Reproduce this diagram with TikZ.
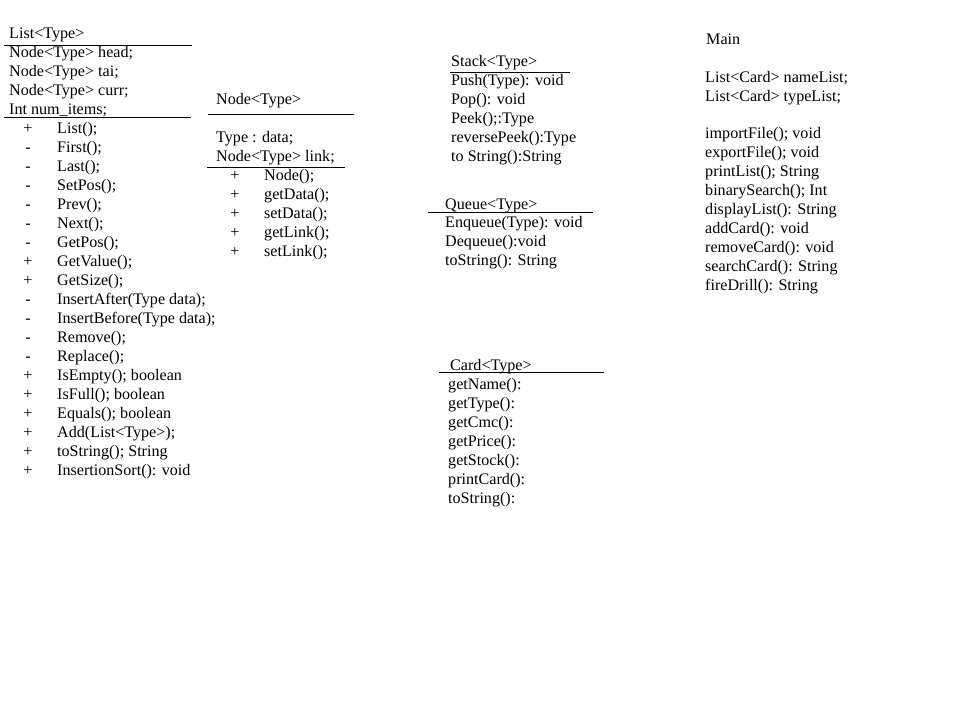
\documentclass[tikz,border=0pt]{standalone}
\usepackage{fontspec}
\setmainfont{Liberation Serif}
\begin{document}
\begin{tikzpicture}[x=1pt,y=-1pt,
  txt/.style={inner sep=0pt,anchor=base west,font=\fontsize{16.1}{19}\selectfont},
  rule/.style={line width=1pt,black}]
\useasboundingbox[fill=white] (0,0) rectangle (960,720);
% ---------- List ----------
\node[txt] (listT) at (9,38) {List<Type>};
\draw[rule] (4,45) -- (192,45);
\foreach \t [count=\i] in {Node<Type> head;,Node<Type> tai;,Node<Type> curr;,Int num\_items;}
  \node[txt] (lattr\i) at (9,{38+19*\i}) {\t};
\draw[rule] (4,117) -- (191,117);
\foreach \s/\t [count=\i] in {+/List();,-/First();,-/Last();,-/SetPos();,-/Prev();,-/Next();,-/GetPos();,+/GetValue();,+/GetSize();,-/InsertAfter(Type data);,-/InsertBefore(Type data);,-/Remove();,-/Replace();,+/IsEmpty(); boolean,+/IsFull(); boolean,+/Equals(); boolean,+/Add(List<Type>);,+/toString(); String,+/InsertionSort(): void}
{
  \node[txt,anchor=base] (lsym\i) at (28,{114+19*\i}) {\s};
  \node[txt] (lop\i) at (57,{114+19*\i}) {\t};
}
% ---------- Node ----------
\node[txt] (nodeT) at (216,104) {Node<Type>};
\draw[rule] (208,114) -- (354,114);
\node[txt] (nattr1) at (216,142) {Type : data;};
\node[txt] (nattr2) at (216,161) {Node<Type> link;};
\draw[rule] (207,167) -- (345,167);
\foreach \t [count=\i] in {Node();,getData();,setData();,getLink();,setLink();}
{
  \node[txt,anchor=base] (nsym\i) at (235,{161+19*\i}) {+};
  \node[txt] (nop\i) at (264,{161+19*\i}) {\t};
}
% ---------- Stack ----------
\node[txt] (stackT) at (451,66) {Stack<Type>};
\draw[rule] (450,72.5) -- (570,72.5);
\foreach \t [count=\i] in {Push(Type): void,Pop(): void,Peek();:Type,reversePeek():Type,to String():String}
  \node[txt] (sop\i) at (451,{66+19*\i}) {\t};
% ---------- Queue ----------
\node[txt] (queueT) at (445,209) {Queue<Type>};
\draw[rule] (428,212.5) -- (593,212.5);
\foreach \t [count=\i] in {Enqueue(Type): void,Dequeue():void,toString(): String}
  \node[txt] (qop\i) at (445,{208+19*\i}) {\t};
% ---------- Card ----------
\node[txt] (cardT) at (450,370) {Card<Type>};
\draw[rule] (439,372.5) -- (604,372.5);
\foreach \t [count=\i] in {getName():,getType():,getCmc():,getPrice():,getStock():,printCard():,toString():}
  \node[txt] (cop\i) at (448,{370+19*\i}) {\t};
% ---------- Main ----------
\node[txt] (mainT) at (706,44) {Main};
\node[txt] (mattr1) at (705,82) {List<Card> nameList;};
\node[txt] (mattr2) at (705,101) {List<Card> typeList;};
\foreach \t [count=\i] in {importFile(); void,exportFile(); void,printList(); String,binarySearch(); Int,displayList(): String,addCard(): void,removeCard(): void,searchCard(): String,fireDrill(): String}
  \node[txt] (mop\i) at (705,{119+19*\i}) {\t};
\end{tikzpicture}
\end{document}
